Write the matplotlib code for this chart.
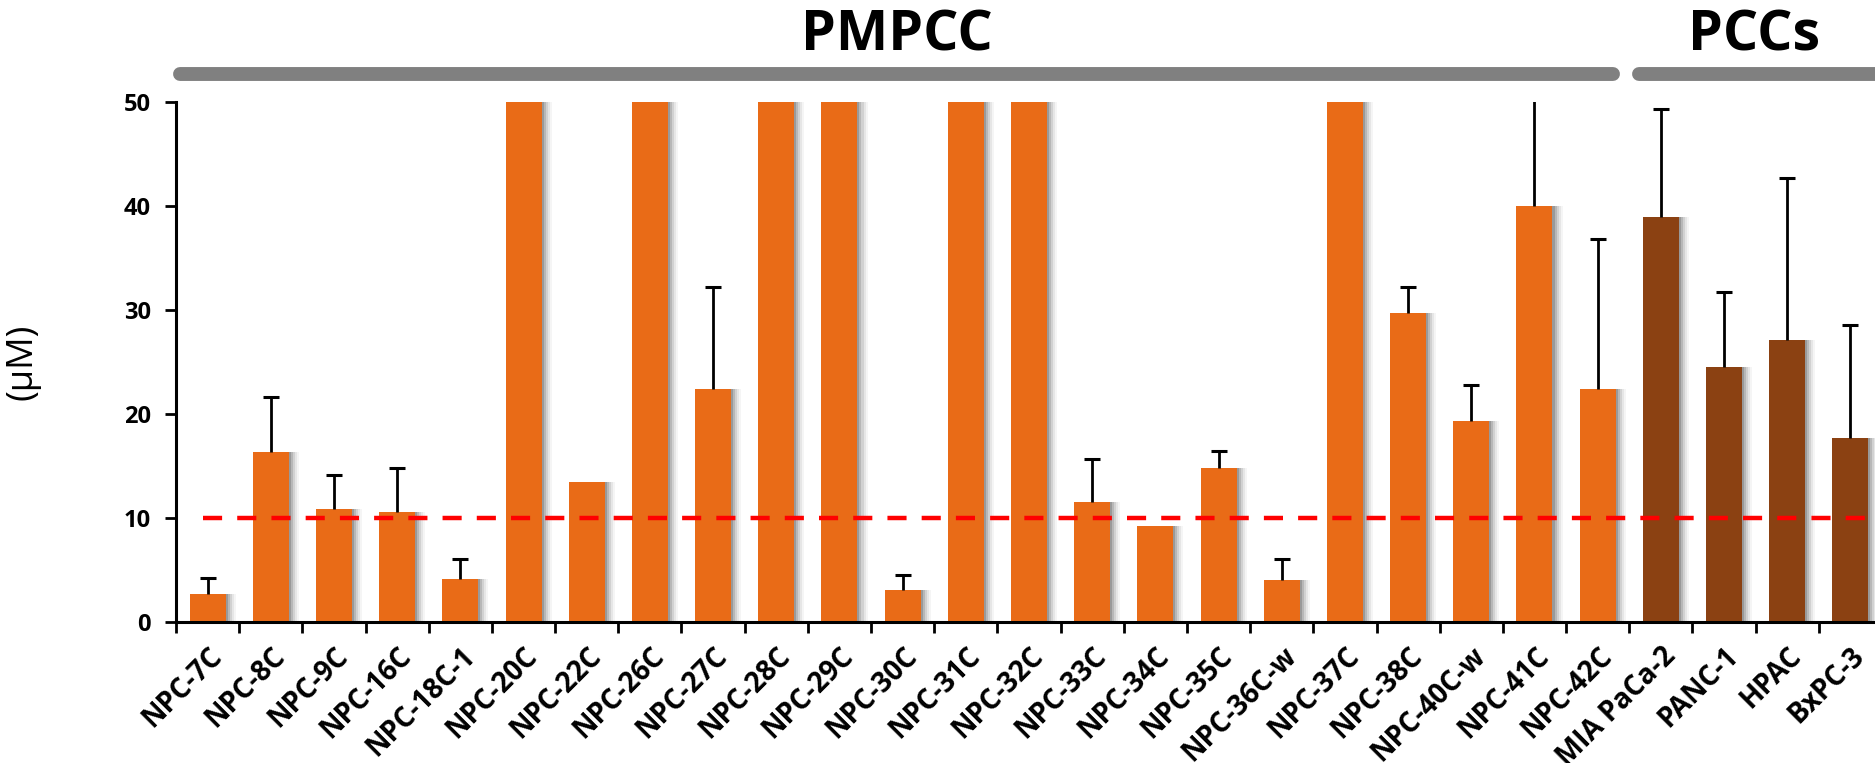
import matplotlib
matplotlib.use("Agg")
import matplotlib.pyplot as plt
from matplotlib.lines import Line2D
import numpy as np

categories = ["NPC-7C", "NPC-8C", "NPC-9C", "NPC-16C", "NPC-18C-1", "NPC-20C", "NPC-22C",
              "NPC-26C", "NPC-27C", "NPC-28C", "NPC-29C", "NPC-30C", "NPC-31C", "NPC-32C",
              "NPC-33C", "NPC-34C", "NPC-35C", "NPC-36C-w", "NPC-37C", "NPC-38C", "NPC-40C-w",
              "NPC-41C", "NPC-42C", "MIA PaCa-2", "PANC-1", "HPAC", "BxPC-3"]
values = [2.7, 16.3, 10.9, 10.6, 4.1, 50, 13.5,
          50, 22.4, 50, 50, 3.1, 50, 50,
          11.5, 9.2, 14.8, 4.0, 50, 29.7, 19.3,
          40.0, 22.4, 38.9, 24.5, 27.1, 17.7]
errors = [1.5, 5.3, 3.2, 4.2, 2.0, 0, 0,
          0, 9.8, 0, 0, 1.4, 0, 0,
          4.2, 0, 1.6, 2.1, 0, 2.5, 3.5,
          12.0, 14.4, 10.4, 7.2, 15.6, 10.9]
groups = ["PMPCC"] * 23 + ["PCCs"] * 4
threshold = 10

orange = "#E96B17"
brown = "#8B4112"
colors = [orange if g == "PMPCC" else brown for g in groups]

W, H = 1875, 763
fig = plt.figure(figsize=(W / 100, H / 100), dpi=100)
ax = fig.add_axes([176 / W, 1 - 622 / H, (1882 - 176) / W, (622 - 102) / H])

x = np.arange(len(categories))
vals = np.array(values, dtype=float)
errs = np.array(errors, dtype=float)
bw = 0.57

# soft shadow to the right of bars
for k, a in enumerate([0.16, 0.12, 0.09, 0.06, 0.04]):
    off = 0.032 * (k + 1)
    ax.bar(x + off, vals, bw, color="black", alpha=a, zorder=1, linewidth=0)

ax.bar(x, vals, bw, color=colors, zorder=2, linewidth=0)

# upper-only error bars
mask = errs > 0
ax.vlines(x[mask], vals[mask], vals[mask] + errs[mask], color="black", lw=2, zorder=3)
ax.plot(x[mask], vals[mask] + errs[mask], ls="none", marker="_", ms=11, mew=2.2,
        color="black", zorder=3)

ax.axhline(threshold, xmin=27 / (1882 - 176), xmax=1, color="#FF0000", lw=3.2,
           dashes=(4.3, 3.4), zorder=4)

ax.set_xlim(-0.5, len(categories) - 0.5)
ax.set_ylim(0, 50)
ax.set_yticks([0, 10, 20, 30, 40, 50])
ax.set_yticklabels(["0", "10", "20", "30", "40", "50"], fontfamily="Open Sans",
                   fontweight="bold", fontsize=17)
ax.set_xticks(np.arange(len(categories) + 1) - 0.5)
ax.set_xticklabels([])
ax.set_xticks(x, minor=True)
ax.set_xticklabels(categories, minor=True, rotation=45, ha="right", rotation_mode="anchor",
                   fontfamily="Open Sans", fontweight="bold", fontsize=20)
ax.tick_params(axis="x", which="minor", length=0, pad=14)
ax.tick_params(axis="x", which="major", length=8, width=2, direction="out")
ax.tick_params(axis="y", length=8, width=2, direction="out", pad=10)
for s in ["top", "right"]:
    ax.spines[s].set_visible(False)
for s in ["left", "bottom"]:
    ax.spines[s].set_linewidth(2.2)
ax.set_ylabel("(μM)", fontfamily="Open Sans", fontsize=26)
ax.yaxis.set_label_coords(-(176 - 40) / (1882 - 176), 0.5)

# group header bars
grey = "#808080"
fig.add_artist(Line2D([180 / W, 1613 / W], [1 - 74 / H] * 2, color=grey, lw=10,
                      solid_capstyle="round", transform=fig.transFigure))
fig.add_artist(Line2D([1639 / W, 1900 / W], [1 - 74 / H] * 2, color=grey, lw=10,
                      solid_capstyle="round", transform=fig.transFigure))
fig.text(897 / W, 1 - 36 / H, "PMPCC", ha="center", va="center", fontfamily="Open Sans",
         fontweight="bold", fontsize=40)
fig.text(1754 / W, 1 - 36 / H, "PCCs", ha="center", va="center", fontfamily="Open Sans",
         fontweight="bold", fontsize=40)

fig.savefig("out.png", dpi=100)
